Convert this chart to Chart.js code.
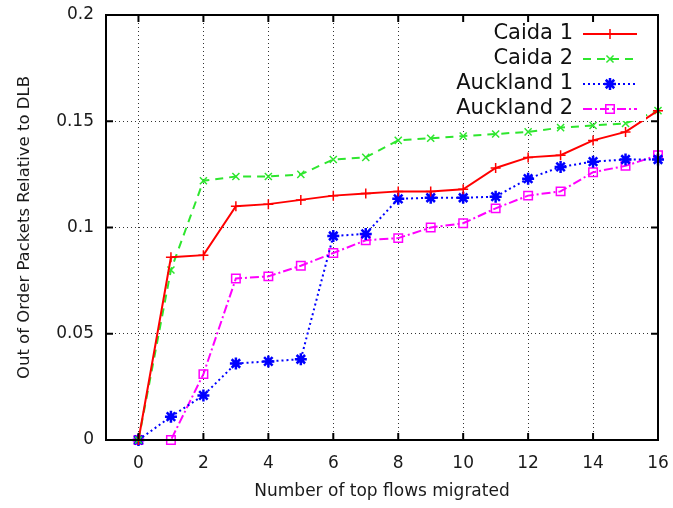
<!DOCTYPE html>
<html>
<head>
<meta charset="utf-8">
<title>Out of order packets vs migrated flows</title>
<script src="https://cdn.jsdelivr.net/npm/chart.js@4.4.0/dist/chart.umd.min.js"></script>
<style>
  html, body { margin: 0; padding: 0; background: #fff; }
  #wrap { position: relative; width: 673px; height: 508px; }
</style>
</head>
<body>
<div id="wrap"><canvas id="outOfOrderChart"></canvas></div>
<script>
// Number of top flows migrated (x values)
const flows = [0, 1, 2, 3, 4, 5, 6, 7, 8, 9, 10, 11, 12, 13, 14, 15, 16];

// Out of order packets relative to DLB, one array per trace
const caida1 = [0, 0.086, 0.087, 0.110, 0.111, 0.113, 0.115, 0.116, 0.117, 0.117, 0.118, 0.128, 0.133, 0.134, 0.141, 0.145, 0.155];
const caida2 = [0, 0.080, 0.122, 0.124, 0.124, 0.125, 0.132, 0.133, 0.141, 0.142, 0.143, 0.144, 0.145, 0.147, 0.148, 0.149, 0.155];
const auckland1 = [0, 0.011, 0.021, 0.036, 0.037, 0.038, 0.096, 0.097, 0.1135, 0.114, 0.114, 0.1145, 0.123, 0.1285, 0.131, 0.132, 0.132];
const auckland2 = [0, 0, 0.031, 0.076, 0.077, 0.082, 0.088, 0.094, 0.095, 0.100, 0.102, 0.109, 0.115, 0.117, 0.126, 0.129, 0.134];

const seriesNames = ['Caida 1', 'Caida 2', 'Auckland 1', 'Auckland 2'];

// Axis ticks
const xTicks = [0, 2, 4, 6, 8, 10, 12, 14, 16];
const yTicks = [0, 0.05, 0.1, 0.15, 0.2];

function toPoints(values) {
    return flows.map((f, i) => ({ x: f, y: values[i] }));
}

Chart.defaults.font.family = '"DejaVu Sans", Verdana, sans-serif';
Chart.defaults.color = '#1a1a1a';

// Gnuplot style frame with inward tick marks on all four sides
const framePlugin = {
    id: 'gnuplotFrame',
    afterDatasetsDraw(chart) {
        const ctx = chart.ctx;
        const area = chart.chartArea;
        const xs = chart.scales.x;
        const ys = chart.scales.y;
        const tickLen = 7;
        ctx.save();
        ctx.strokeStyle = '#000';
        ctx.lineWidth = 2;
        ctx.setLineDash([]);
        ctx.beginPath();
        xTicks.forEach(v => {
            const px = xs.getPixelForValue(v);
            ctx.moveTo(px, area.bottom);
            ctx.lineTo(px, area.bottom - tickLen);
            ctx.moveTo(px, area.top);
            ctx.lineTo(px, area.top + tickLen);
        });
        yTicks.forEach(v => {
            const py = ys.getPixelForValue(v);
            ctx.moveTo(area.left, py);
            ctx.lineTo(area.left + tickLen, py);
            ctx.moveTo(area.right, py);
            ctx.lineTo(area.right - tickLen, py);
        });
        ctx.stroke();
        ctx.strokeRect(area.left, area.top, area.right - area.left, area.bottom - area.top);
        ctx.restore();
    }
};

// Key in the top right corner: text, then a line sample with its marker
const keyPlugin = {
    id: 'gnuplotKey',
    afterDatasetsDraw(chart) {
        const ctx = chart.ctx;
        const area = chart.chartArea;
        const textRight = area.right - 85;
        const lineStart = area.right - 75;
        const lineEnd = area.right - 21;
        const firstRow = area.top + 19;
        const rowGap = 25;
        ctx.save();
        ctx.fillStyle = '#fff';
        ctx.fillRect(area.left + 340, area.top + 7, 200, 99);
        ctx.font = '21px "DejaVu Sans"';
        ctx.textAlign = 'right';
        ctx.textBaseline = 'middle';
        chart.data.datasets.forEach((ds, i) => {
            const y = firstRow + i * rowGap;
            ctx.fillStyle = '#111';
            ctx.fillText(ds.label, textRight, y);

            ctx.strokeStyle = ds.borderColor;
            ctx.lineWidth = ds.borderWidth;
            ctx.setLineDash(ds.borderDash || []);
            ctx.beginPath();
            ctx.moveTo(lineStart, y);
            ctx.lineTo(lineEnd, y);
            ctx.stroke();
            ctx.setLineDash([]);

            ctx.strokeStyle = ds.pointBorderColor;
            ctx.fillStyle = ds.pointBackgroundColor;
            ctx.lineWidth = ds.pointBorderWidth;
            Chart.helpers.drawPoint(ctx, {
                pointStyle: ds.pointStyle,
                radius: ds.pointRadius,
                borderWidth: ds.pointBorderWidth,
                rotation: 0
            }, (lineStart + lineEnd) / 2, y);
        });
        ctx.restore();
    }
};

const ctx = document.getElementById('outOfOrderChart').getContext('2d');

new Chart(ctx, {
    type: 'line',
    data: {
        datasets: [
            {
                label: seriesNames[0],
                data: toPoints(caida1),
                borderColor: '#ff0000',
                borderWidth: 2,
                pointStyle: 'cross',
                pointRadius: 5,
                pointBorderColor: '#ff0000',
                pointBackgroundColor: '#ff0000',
                pointBorderWidth: 1.5
            },
            {
                label: seriesNames[1],
                data: toPoints(caida2),
                borderColor: '#2ee62e',
                borderWidth: 2,
                borderDash: [8, 6],
                pointStyle: 'crossRot',
                pointRadius: 5,
                pointBorderColor: '#2ee62e',
                pointBackgroundColor: '#2ee62e',
                pointBorderWidth: 1.5
            },
            {
                label: seriesNames[2],
                data: toPoints(auckland1),
                borderColor: '#0000ff',
                borderWidth: 2,
                borderDash: [2, 3],
                pointStyle: 'star',
                pointRadius: 6,
                pointBorderColor: '#0000ff',
                pointBackgroundColor: '#0000ff',
                pointBorderWidth: 2.5
            },
            {
                label: seriesNames[3],
                data: toPoints(auckland2),
                borderColor: '#ff00ff',
                borderWidth: 2,
                borderDash: [9, 3, 2, 3],
                pointStyle: 'rect',
                pointRadius: 6,
                pointBorderColor: '#ff00ff',
                pointBackgroundColor: 'rgba(255,255,255,0)',
                pointBorderWidth: 1.5
            }
        ]
    },
    options: {
        responsive: true,
        maintainAspectRatio: false,
        animation: false,
        devicePixelRatio: 1,
        clip: false,
        layout: { padding: { top: 15, right: 15, left: 0, bottom: 0 } },
        elements: { line: { tension: 0, fill: false } },
        plugins: {
            legend: { display: false },
            tooltip: { enabled: false }
        },
        scales: {
            x: {
                type: 'linear',
                min: -1,
                max: 16,
                afterBuildTicks: scale => { scale.ticks = xTicks.map(v => ({ value: v })); },
                afterFit: scale => {
                    scale.height = 68;
                    scale.paddingLeft = 0;
                    scale.paddingRight = 0;
                },
                grid: { color: '#333', lineWidth: 1, drawTicks: false },
                border: { display: true, color: '#000', width: 2, dash: [1, 3] },
                ticks: {
                    padding: 13,
                    maxRotation: 0,
                    font: { size: 17 },
                    callback: value => String(value)
                },
                title: {
                    display: true,
                    text: 'Number of top flows migrated',
                    font: { size: 17 },
                    padding: { top: 0, bottom: 6 }
                }
            },
            y: {
                min: 0,
                max: 0.2,
                afterBuildTicks: scale => { scale.ticks = yTicks.map(v => ({ value: v })); },
                afterFit: scale => {
                    scale.width = 106;
                    scale.paddingTop = 0;
                    scale.paddingBottom = 0;
                },
                grid: { color: '#333', lineWidth: 1, drawTicks: false },
                border: { display: true, color: '#000', width: 2, dash: [1, 3] },
                ticks: {
                    padding: 12,
                    font: { size: 17 },
                    callback: value => String(value)
                },
                title: {
                    display: true,
                    text: 'Out of Order Packets Relative to DLB',
                    font: { size: 16.5 },
                    padding: { top: 15, bottom: 0 }
                }
            }
        }
    },
    plugins: [framePlugin, keyPlugin]
});
</script>
</body>
</html>
